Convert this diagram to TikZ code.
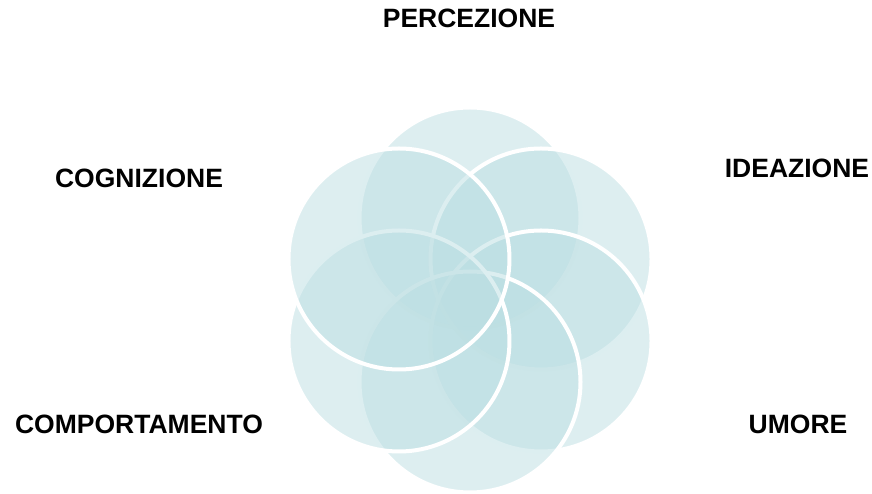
\documentclass[tikz,border=0pt]{standalone}
\usepackage{fontspec}
\setmainfont{Liberation Sans}
\usepackage{color}
\definecolor{ringteal}{RGB}{187,222,226}

\begin{document}
\begin{tikzpicture}[x=1pt, y=1pt,
    ring/.style={fill=ringteal, fill opacity=0.5, draw=white, line width=4pt},
    tag/.style={font=\fontsize{26.5}{32}\selectfont\bfseries, inner sep=0pt}]
    \useasboundingbox (0,0) rectangle (872,494);
    \coordinate (hub) at (470,194);
    % rings, clockwise from the top
    \foreach \ang in {90,30,-30,-90,-150,150}
        \draw [ring] (hub) ++(\ang:82) circle (110.5);
    \node [tag] (perc) at (469,476) {PERCEZIONE};
    \node [tag] (idea) at (797,326) {IDEAZIONE};
    \node [tag] (umor) at (798,70) {UMORE};
    \node [tag] (comp) at (139,70) {COMPORTAMENTO};
    \node [tag] (cogn) at (139,316) {COGNIZIONE};
\end{tikzpicture}
\end{document}
